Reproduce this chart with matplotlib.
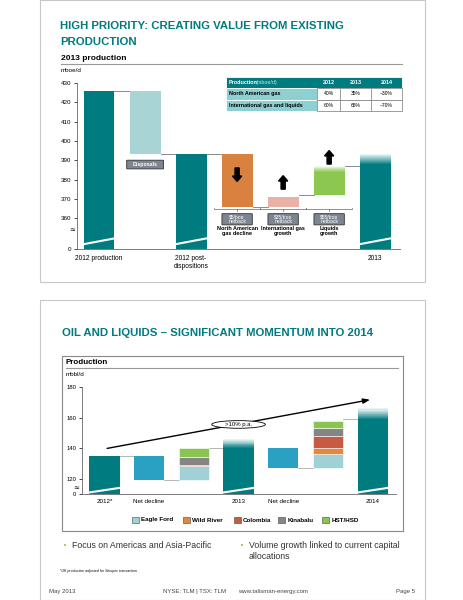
import matplotlib
matplotlib.use("Agg")
import matplotlib.pyplot as plt
from matplotlib.patches import Rectangle, FancyBboxPatch, Ellipse, FancyArrow

W, H = 464, 600
TEAL = "#007b80"
fig = plt.figure(figsize=(4.64, 6.0), dpi=100)
fig.patch.set_facecolor("white")
NARROW = ["Liberation Sans Narrow", "Liberation Sans", "DejaVu Sans"]
SANS = ["Liberation Sans", "DejaVu Sans"]

def ax_px(x, y, w, h):
    return fig.add_axes([x / W, 1 - (y + h) / H, w / W, h / H])

# page frames
bg = ax_px(0, 0, W, H)
bg.set_xlim(0, W); bg.set_ylim(H, 0); bg.axis("off")
for y0, y1 in [(0, 282), (300, 600)]:
    bg.add_patch(Rectangle((40, y0), 385, y1 - y0, fill=False, ec="#c8c8c8", lw=0.8))

def fig_text(x, y, s, **kw):
    bg.text(x, y, s, **kw)

# ---------------- top chart data ----------------
top_labels = ["2012 production", "", "2012 post-\ndispositions", "", "", "", "2013"]
top_bottom = [0, 393, 0, 366, 366, 372, 0]
top_top = [426, 426, 393, 393, 371, 384, 388]
top_colors = [TEAL, "#a9d4d6", TEAL, "#d9823f", "#e8b2a6", "#8cc850", TEAL]
top_fade = [0, 0, 0, 0, 0, 3, 5]
top_links = [426, 393, 393, 366, 372, 387]
top_ticks = [430, 420, 410, 400, 390, 380, 370, 360]
netbacks = ["$5/boe\nnetback", "$35/boe\nnetback", "$55/boe\nnetback"]
netback_titles = ["North American\ngas decline", "International gas\ngrowth", "Liquids\ngrowth"]

fig_text(60, 26, "HIGH PRIORITY: CREATING VALUE FROM EXISTING", family=NARROW, fontsize=8.2,
         weight="bold", color=TEAL, va="center")
fig_text(60, 42, "PRODUCTION", family=NARROW, fontsize=8.2, weight="bold", color=TEAL, va="center")
fig_text(61, 59, "2013 production", family=SANS, fontsize=6, weight="bold", va="center")
bg.plot([61, 402], [64, 64], color="#999999", lw=0.8)
fig_text(61, 70, "mboe/d", family=SANS, fontsize=4.5, va="center")

ZERO = 344
ax = ax_px(77, 83, 323, 166)
ax.patch.set_visible(False)
ax.set_xlim(-0.48, 6.54); ax.set_ylim(ZERO, 430)
for s in ["top", "right"]:
    ax.spines[s].set_visible(False)
for s in ["left", "bottom"]:
    ax.spines[s].set_color("#666666"); ax.spines[s].set_linewidth(0.6)
ax.set_yticks(top_ticks + [ZERO])
ax.set_yticklabels([str(t) for t in top_ticks] + ["0"], fontsize=4.5, family=SANS)
ax.set_xticks([])
ax.tick_params(axis="y", length=2, width=0.5, pad=2)
bw = 0.67
for i in range(7):
    b = ZERO if top_bottom[i] == 0 else top_bottom[i]
    ax.bar(i, top_top[i] - b, bottom=b, width=bw, color=top_colors[i], zorder=2)
    f = top_fade[i]
    if f:
        n = 10
        for k in range(n):
            ax.bar(i, f / n, bottom=top_top[i] + k * f / n, width=bw, color=top_colors[i],
                   alpha=1 - (k + 1) / (n + 1), lw=0, zorder=2)
    if top_bottom[i] == 0:
        ax.plot([i - bw / 2, i + bw / 2], [ZERO + 2.5, ZERO + 5.5], color="white", lw=1.5, zorder=3)
for i, v in enumerate(top_links):
    ax.plot([i + bw / 2, i + 1 - bw / 2], [v, v], color="#777777", lw=0.6, zorder=1)
for i, t in enumerate(top_labels):
    if t:
        ax.text(i, ZERO - 3, t, ha="center", va="top", fontsize=4.8, family=SANS)
ax.add_patch(FancyBboxPatch((1 - 0.4, 385.5), 0.8, 4.5, boxstyle="round,pad=0,rounding_size=0.06",
                            fc="#7d8590", ec="#333333", lw=0.6, zorder=4))
ax.text(1, 387.8, "Disposals", ha="center", va="center", fontsize=3.8, color="white",
        weight="bold", family=SANS, zorder=5)
# thick block arrows
for i, y0, dy in [(3, 386, -7), (4, 375, 7), (5, 388, 7)]:
    ax.add_patch(FancyArrow(i, y0, 0, dy, width=0.09, head_width=0.2, head_length=2.8,
                            length_includes_head=True, color="black", zorder=5))
for j, i in enumerate([3, 4, 5]):
    ax.plot([i - 0.5, i - 0.5, i + 0.5, i + 0.5], [365.5, 364.5, 364.5, 365.5], color="#666666", lw=0.5)
    ax.plot([i, i], [364.5, 363.5], color="#666666", lw=0.5)
    ax.add_patch(FancyBboxPatch((i - 0.33, 356.5), 0.66, 5.8, boxstyle="round,pad=0,rounding_size=0.06",
                                fc="#7d8590", ec="#333333", lw=0.6, zorder=4))
    ax.text(i, 359.4, netbacks[j], ha="center", va="center", fontsize=3.6, color="white",
            family=SANS, zorder=5, linespacing=1.0)
    ax.text(i, 356, netback_titles[j], ha="center", va="top", fontsize=4.0, weight="bold",
            family=SANS, linespacing=1.1)
ax.text(-0.58, ZERO + 10, "≈", fontsize=5, ha="center", va="center")

# table
tab_cols = ["2012", "2013", "2014"]
tab_rows = ["North American gas", "International gas and liquids"]
tab_vals = [["40%", "35%", "~30%"], ["60%", "65%", "~70%"]]
tx0, ty0, rh = 226, 77, 11.3
cx = [226, 317, 340, 371, 402]
bg.add_patch(Rectangle((tx0, ty0), 176, rh, fc=TEAL, ec="white", lw=0.6))
bg.text(229, ty0 + rh / 2, "Production", family=SANS, fontsize=3.9, weight="bold", color="white", va="center")
bg.text(256, ty0 + rh / 2, "(mboe/d)", family=SANS, fontsize=3.9, color="#cfe8e8", va="center")
for c, s in enumerate(tab_cols):
    bg.text((cx[c + 1] + cx[c + 2]) / 2, ty0 + rh / 2, s, family=SANS, fontsize=3.9, weight="bold",
            color="white", va="center", ha="center")
for r in range(2):
    y = ty0 + rh * (r + 1)
    bg.add_patch(Rectangle((cx[0], y), cx[1] - cx[0], rh, fc="#8ecfd2", ec="white", lw=0.6))
    bg.add_patch(Rectangle((cx[1], y), cx[4] - cx[1], rh, fc="white", ec="#888888", lw=0.4))
    bg.text(229, y + rh / 2, tab_rows[r], family=SANS, fontsize=3.9, weight="bold", va="center")
    for c in range(3):
        bg.add_patch(Rectangle((cx[c + 1], y), cx[c + 2] - cx[c + 1], rh, fill=False, ec="#888888", lw=0.4))
        bg.text((cx[c + 1] + cx[c + 2]) / 2, y + rh / 2, tab_vals[r][c], family=SANS, fontsize=3.6,
                va="center", ha="center")

# ---------------- bottom chart data ----------------
bot_labels = ["2012*", "Net decline", "", "2013", "Net decline", "", "2014"]
bot_totals = [135, None, None, 140, None, None, 159]
bot_total_fade = [0, None, None, 6, None, None, 7]
bot_decline = {1: (119, 135), 4: (127, 140)}
seg_names = ["Eagle Ford", "Wild River", "Colombia", "Kinabalu", "HST/HSD"]
seg_colors = ["#9fd1d7", "#e08a40", "#c85a42", "#858585", "#88c44f"]
seg_base = {2: 119, 5: 127}
seg_vals = {2: [9, 0, 1, 5, 6], 5: [9, 4, 8, 5, 5]}
bot_links = [135, 119, 140, 127, 159]
bot_ticks = [180, 160, 140, 120]

fig_text(62, 333, "OIL AND LIQUIDS – SIGNIFICANT MOMENTUM INTO 2014", family=NARROW, fontsize=8.2,
         weight="bold", color=TEAL, va="center")
bg.add_patch(Rectangle((62, 356), 341, 175, fill=False, ec="#888888", lw=0.8))
fig_text(66, 362, "Production", family=SANS, fontsize=5.8, weight="bold", va="center")
bg.plot([66, 398], [368, 368], color="#999999", lw=0.8)
fig_text(66, 374, "mbbl/d", family=SANS, fontsize=4.5, va="center")

Z2 = 110
ax2 = ax_px(82, 387, 314, 107)
ax2.patch.set_visible(False)
ax2.set_xlim(-0.5, 6.52); ax2.set_ylim(Z2, 180)
for s in ["top", "right"]:
    ax2.spines[s].set_visible(False)
for s in ["left", "bottom"]:
    ax2.spines[s].set_color("#666666"); ax2.spines[s].set_linewidth(0.6)
ax2.set_yticks(bot_ticks + [Z2])
ax2.set_yticklabels([str(t) for t in bot_ticks] + ["0"], fontsize=4.2, family=SANS)
ax2.set_xticks([])
ax2.tick_params(axis="y", length=2, width=0.5, pad=2)
bw2 = 0.68
for i in range(7):
    if bot_totals[i] is not None:
        ax2.bar(i, bot_totals[i] - Z2, bottom=Z2, width=bw2, color=TEAL, zorder=2)
        f = bot_total_fade[i]
        if f:
            n = 10
            for k in range(n):
                ax2.bar(i, f / n, bottom=bot_totals[i] + k * f / n, width=bw2, color=TEAL,
                        alpha=1 - (k + 1) / (n + 1), lw=0, zorder=2)
        ax2.plot([i - bw2 / 2, i + bw2 / 2], [Z2 + 1, Z2 + 4], color="white", lw=1.5, zorder=3)
    if i in bot_decline:
        lo, hi = bot_decline[i]
        ax2.bar(i, hi - lo, bottom=lo, width=bw2, color="#2aa0c2", zorder=2)
    if i in seg_vals:
        b = seg_base[i]
        for v, c in zip(seg_vals[i], seg_colors):
            if v > 0:
                ax2.bar(i, v, bottom=b, width=bw2, color=c, ec="white", lw=0.4, zorder=2)
            b += v
for i, v in enumerate(bot_links):
    j = [0, 1, 2, 4, 5][i]
    ax2.plot([j + bw2 / 2, j + 1 - bw2 / 2], [v, v], color="#aaaaaa", lw=0.6, zorder=1)
for i, t in enumerate(bot_labels):
    if t:
        ax2.text(i, Z2 - 3, t, ha="center", va="top", fontsize=4.5, family=SANS)
ax2.annotate("", xy=(6.0, 172), xytext=(0, 139.5),
             arrowprops=dict(arrowstyle="-|>,head_width=0.15,head_length=0.4", lw=1.0, color="black"))
ax2.add_patch(Ellipse((3.0, 155.5), 1.2, 5, fc="white", ec="black", lw=0.6, zorder=4))
ax2.text(3.0, 155.5, ">10% p.a.", ha="center", va="center", fontsize=4.3, family=SANS, zorder=5)
ax2.text(-0.62, Z2 + 4, "≈", fontsize=5, ha="center", va="center")

# legend
lx = 132
for nme, c in zip(seg_names, seg_colors):
    bg.add_patch(Rectangle((lx, 517), 7, 6, fc=c, ec="#444444", lw=0.4))
    bg.text(lx + 9, 520, nme, family=SANS, fontsize=4.5, weight="bold", va="center")
    lx += 9 + len(nme) * 3.4 + 8

# bullets and footer
bg.text(63, 546, "•", color="#88c44f", fontsize=5, va="center")
bg.text(72, 546, "Focus on Americas and Asia-Pacific", family=SANS, fontsize=6.3, va="center", color="#333333")
bg.text(240, 546, "•", color="#88c44f", fontsize=5, va="center")
bg.text(249, 541.5, "Volume growth linked to current capital\nallocations", family=SANS, fontsize=6.3,
        va="top", color="#333333", linespacing=1.15)
bg.text(60, 571, "*UK production adjusted for Sinopec transaction", family=SANS, fontsize=2.6,
        style="italic", va="center")
bg.text(49, 592, "May 2013", family=SANS, fontsize=4.3, va="center", color="#444444")
bg.text(163, 592, "NYSE: TLM | TSX: TLM", family=SANS, fontsize=4.3, va="center", color="#444444")
bg.text(238, 592, "www.talisman-energy.com", family=SANS, fontsize=4.3, va="center", color="#444444")
bg.text(415, 592, "Page 5", family=SANS, fontsize=4.3, va="center", ha="right", color="#444444")

fig.savefig("out.png", dpi=100)
